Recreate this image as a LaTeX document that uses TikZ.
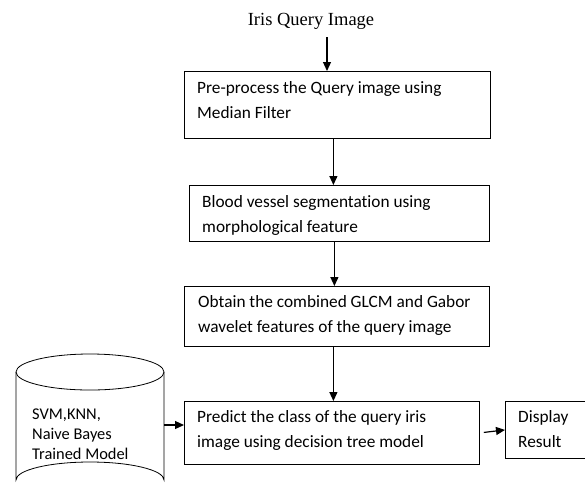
\documentclass[tikz,border=0pt]{standalone}
\usepackage{fontspec}
\setmainfont{Carlito}[Ligatures=NoCommon]
\newfontfamily\titlefont{Liberation Serif}
\usetikzlibrary{arrows.meta}

\begin{document}
\begin{tikzpicture}[x=1pt,y=-1pt,
  box/.style={draw, line width=0.8pt, anchor=north west, inner sep=0pt},
  txt/.style={anchor=base west, align=left, inner sep=0pt,
              font=\fontsize{17.3}{25}\selectfont},
  cyltxt/.style={anchor=base west, align=left, inner sep=0pt,
              font=\fontsize{16.4}{20}\selectfont},
  arr/.style={-{Triangle[length=9pt,width=8pt]}, line width=1.2pt}]
\useasboundingbox (0,0) rectangle (585,499);

% title (anchored at its baseline)
\node[anchor=base, inner sep=0pt, font=\titlefont\fontsize{18.5}{20}\selectfont] (t) at (311,25) {Iris Query Image};

% process boxes; each text node is anchored at the baseline of its last line
\node[box, minimum width=306pt, minimum height=67pt] (b1) at (184,71) {};
\node[txt] (t1) at (197,118) {Pre-process the Query image using\\Median Filter};

\node[box, minimum width=300pt, minimum height=56pt] (b2) at (189,185) {};
\node[txt] (t2) at (202,232) {Blood vessel segmentation using\\morphological feature};

\node[box, minimum width=305pt, minimum height=60pt] (b3) at (184,286) {};
\node[txt] (t3) at (198,332) {Obtain the combined GLCM and Gabor\\wavelet features of the query image};

\node[box, minimum width=295pt, minimum height=63pt] (b4) at (184,401) {};
\node[txt] (t4) at (197,447) {Predict the class of the query iris\\image using decision tree model};

\node[box, minimum width=81pt, minimum height=57pt] (d) at (505,401) {};
\node[txt] (td) at (518,447) {Display\\Result};

% trained model store
\draw[line width=0.8pt] (16,372) arc[start angle=180, end angle=540, x radius=74, y radius=18];
\draw[line width=0.8pt] (16,372) -- (16,480) arc[start angle=180, end angle=360, x radius=74, y radius=18] -- (164,372);
\coordinate (cylR) at (164,425);
\node[cyltxt] (tc) at (32,459) {SVM,KNN,\\Naive Bayes\\Trained Model};

% connectors
\draw[arr] ([xshift=16pt,yshift=-8pt]t.south) -- ([xshift=16pt]t.south |- b1.north);
\draw[arr] ([xshift=-4pt]b1.south) -- ([xshift=-4pt]b1.south |- b2.north);
\draw[arr] ([xshift=-5pt]b2.south) -- ([xshift=-5pt]b2.south |- b3.north);
\draw[arr] ([xshift=-3.5pt]b3.south) -- ([xshift=-3.5pt]b3.south |- b4.north);
\draw[arr, shorten <=4pt] (b4.east) -- (d.west);
\draw[arr] (cylR) -- (b4.west |- cylR);
\end{tikzpicture}
\end{document}
